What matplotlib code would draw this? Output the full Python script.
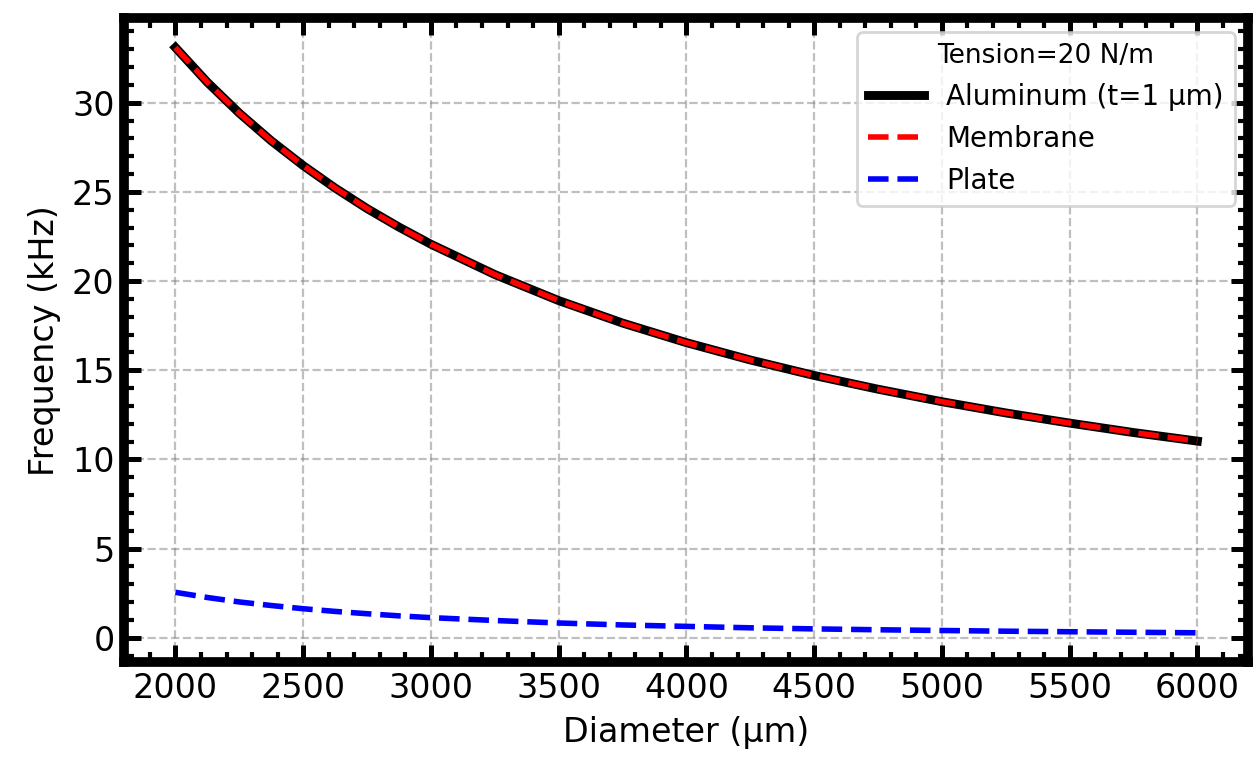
import matplotlib
matplotlib.use("Agg")
import matplotlib.pyplot as plt
from matplotlib.ticker import AutoMinorLocator

# values
diameter = [2000, 2125, 2250, 2375, 2500, 2625, 2750, 2875, 3000, 3250,
            3500, 3750, 4000, 4250, 4500, 4750, 5000, 5250, 5500, 5750, 6000]
aluminum = [33.1, 31.15, 29.42, 27.87, 26.48, 25.22, 24.07, 23.03, 22.07, 20.37,
            18.91, 17.65, 16.55, 15.58, 14.71, 13.94, 13.24, 12.61, 12.04, 11.51, 11.03]
membrane = [33.1, 31.15, 29.42, 27.87, 26.48, 25.22, 24.07, 23.03, 22.07, 20.37,
            18.91, 17.65, 16.55, 15.58, 14.71, 13.94, 13.24, 12.61, 12.04, 11.51, 11.03]
plate = [2.55, 2.26, 2.01, 1.81, 1.63, 1.48, 1.35, 1.23, 1.13, 0.97,
         0.83, 0.72, 0.64, 0.56, 0.50, 0.45, 0.41, 0.37, 0.34, 0.31, 0.28]

fig, ax = plt.subplots(figsize=(6.28, 3.805), dpi=200)
fig.subplots_adjust(left=0.099, right=0.994, bottom=0.13, top=0.976)

ax.plot(diameter, aluminum, color="black", lw=3.2, label="Aluminum (t=1 µm)")
ax.plot(diameter, membrane, color="red", lw=2, ls="--", label="Membrane")
ax.plot(diameter, plate, color="blue", lw=2, ls="--", label="Plate")

ax.set_xlabel("Diameter (µm)", fontsize=12)
ax.set_ylabel("Frequency (kHz)", fontsize=12)

# thick frame, inward ticks on all sides
for sp in ax.spines.values():
    sp.set_linewidth(3.5)
ax.xaxis.set_minor_locator(AutoMinorLocator(5))
ax.yaxis.set_minor_locator(AutoMinorLocator(5))
ax.tick_params(which="both", direction="in", top=True, right=True, labelsize=12)
ax.tick_params(which="major", length=6, width=1.8)
ax.tick_params(which="minor", length=3.5, width=1.5)

ax.grid(True, linestyle="--", color="gray", alpha=0.5, lw=0.8)

leg = ax.legend(title="Tension=20 N/m", fontsize=10, title_fontsize=9.5,
                loc="upper right")

fig.savefig("out.png", dpi=200)
